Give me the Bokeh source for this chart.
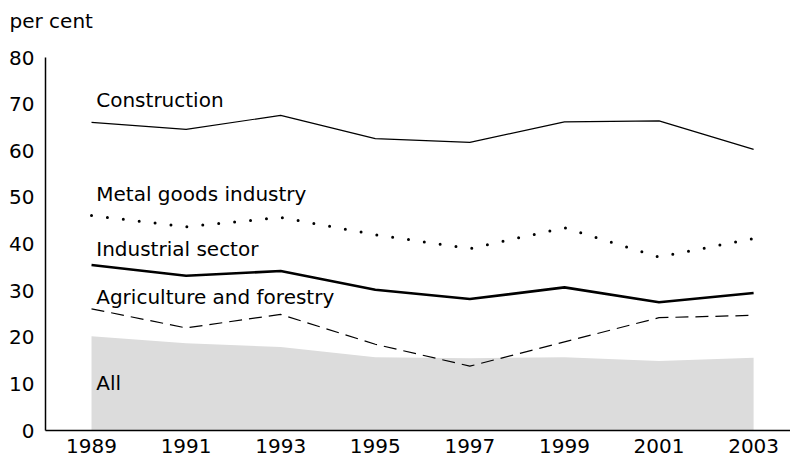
from bokeh.plotting import figure
from bokeh.models import Range1d, FixedTicker
from bokeh.core.properties import value
from bokeh.embed import file_html
from bokeh.resources import INLINE

years = [1989, 1991, 1993, 1995, 1997, 1999, 2001, 2003]
construction = [66.1, 64.6, 67.6, 62.6, 61.8, 66.2, 66.4, 60.3]
metal_goods = [46.1, 43.7, 45.7, 42.0, 39.0, 43.5, 37.2, 41.2]
industrial = [35.5, 33.2, 34.2, 30.2, 28.2, 30.7, 27.5, 29.5]
agriculture = [26.1, 22.0, 24.9, 18.5, 13.8, 19.0, 24.2, 24.7]
all_sectors = [20.2, 18.7, 17.9, 15.7, 15.5, 15.7, 14.9, 15.6]

label_texts = ["Construction", "Metal goods industry", "Industrial sector",
               "Agriculture and forestry", "All"]
label_x = [1989.1, 1989.1, 1989.1, 1989.1, 1989.1]
label_y = [70.8, 50.8, 39.0, 28.7, 10.1]

y_ticks = [0, 10, 20, 30, 40, 50, 60, 70, 80]
unit_text = "per cent"

FONT = "DejaVu Sans"

p = figure(width=790, height=460, output_backend="svg", toolbar_location=None,
           x_range=Range1d(1988.027, 2003.78), y_range=Range1d(0, 84.51),
           min_border_left=45, min_border_right=0, min_border_top=36,
           min_border_bottom=30)
p.outline_line_color = None
p.grid.visible = False
p.background_fill_color = "white"
p.border_fill_color = "white"

p.title.text = unit_text
p.title.align = "left"
p.title.offset = -36
p.title.standoff = 8
p.title.text_font = FONT
p.title.text_font_size = "20px"
p.title.text_font_style = "normal"
p.title.text_color = "black"

for ax in (p.xaxis[0], p.yaxis[0]):
    ax.major_tick_line_color = None
    ax.minor_tick_line_color = None
    ax.major_tick_out = 0
    ax.major_tick_in = 0
    ax.axis_line_color = "black"
    ax.axis_line_width = 1.5
    ax.major_label_text_font = FONT
    ax.major_label_text_font_size = "20px"
    ax.major_label_text_color = "black"

p.xaxis.ticker = FixedTicker(ticks=years)
p.xaxis.bounds = (1988.027, 2003.78)
p.yaxis.ticker = FixedTicker(ticks=y_ticks)
p.yaxis.bounds = (0, 80)
p.xaxis.major_label_standoff = 8
p.yaxis.major_label_standoff = 11

p.varea(x=years, y1=[0] * len(years), y2=all_sectors, fill_color="#dcdcdc")
p.line(years, construction, line_color="black", line_width=1.2)
p.line(years, metal_goods, line_color="black", line_width=3, line_dash="0 16",
       line_cap="round")
p.line(years, industrial, line_color="black", line_width=2.6)
p.line(years, agriculture, line_color="black", line_width=1.2, line_dash="13 7")

p.text(x=label_x, y=label_y, text=label_texts, text_font=value(FONT),
       text_font_size="20px", text_baseline="middle", text_align="left",
       text_color="black")

open("out.html", "w").write(file_html(p, INLINE))
